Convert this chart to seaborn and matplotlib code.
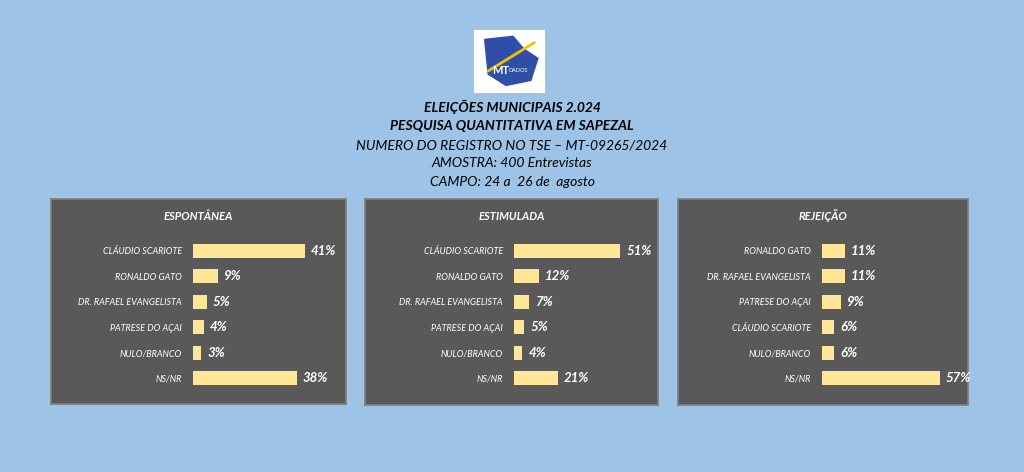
import matplotlib
matplotlib.use("Agg")
import matplotlib.pyplot as plt
import seaborn as sns
import pandas as pd
from matplotlib.patches import Rectangle, Polygon

sns.set_theme(style="white")
plt.rcParams['font.family'] = ['Lato', 'DejaVu Sans']

esp_names = ["CLÁUDIO SCARIOTE", "RONALDO GATO", "DR. RAFAEL EVANGELISTA", "PATRESE DO AÇAI", "NULO/BRANCO", "NS/NR"]
esp_vals = [41, 9, 5, 4, 3, 38]
est_names = ["CLÁUDIO SCARIOTE", "RONALDO GATO", "DR. RAFAEL EVANGELISTA", "PATRESE DO AÇAI", "NULO/BRANCO", "NS/NR"]
est_vals = [51, 12, 7, 5, 4, 21]
rej_names = ["RONALDO GATO", "DR. RAFAEL EVANGELISTA", "PATRESE DO AÇAI", "CLÁUDIO SCARIOTE", "NULO/BRANCO", "NS/NR"]
rej_vals = [11, 11, 9, 6, 6, 57]
panel_titles = ["ESPONTÂNEA", "ESTIMULADA", "REJEIÇÃO"]
title_lines = ["ELEIÇÕES MUNICIPAIS 2.024", "PESQUISA QUANTITATIVA EM SAPEZAL",
               "NUMERO DO REGISTRO NO TSE – MT-09265/2024", "AMOSTRA: 400 Entrevistas",
               "CAMPO: 24 a  26 de  agosto"]

W, H = 1024, 472
BG = "#9DC3E6"; PANEL = "#595959"; BAR = "#FFE699"
fig = plt.figure(figsize=(W/100, H/100), dpi=100, facecolor=BG)

def px(x0, y0, x1, y1):
    return [x0/W, 1-y1/H, (x1-x0)/W, (y1-y0)/H]

lg = fig.add_axes(px(474, 30, 545, 93))
lg.set_xlim(0, 1); lg.set_ylim(0, 1); lg.axis("off")
lg.add_patch(Rectangle((0, 0), 1, 1, color="white"))
lg.add_patch(Polygon([(0.15, 0.85), (0.55, 0.9), (0.7, 0.7), (0.9, 0.55), (0.8, 0.2), (0.45, 0.12), (0.2, 0.3)], color="#2F4EA8"))
lg.plot([0.2, 0.85], [0.35, 0.8], color="#F2C200", lw=2)
lg.text(0.38, 0.35, "MT", color="white", fontsize=8, fontweight="bold", ha="center", va="center")
lg.text(0.62, 0.35, "DADOS", color="white", fontsize=4, ha="center", va="center")

ys = [107, 126, 145, 163, 182]
for i, (t, y) in enumerate(zip(title_lines, ys)):
    fig.text(512/W, 1-y/H, t, ha="center", va="center", fontsize=10, style="italic",
             fontweight="bold" if i < 2 else "normal", color="black")

panels = [
    ((51, 199, 346, 404), 193, 2.73, esp_names, esp_vals),
    ((365, 199, 658, 405), 514, 2.08, est_names, est_vals),
    ((678, 199, 968, 405), 822, 2.07, rej_names, rej_vals),
]
for (box, bx, scale, names, vals), ptitle in zip(panels, panel_titles):
    x0, y0, x1, y1 = box
    bg = fig.add_axes(px(x0, y0, x1, y1))
    bg.set_facecolor(PANEL); bg.set_xticks([]); bg.set_yticks([])
    for s in bg.spines.values():
        s.set_color("#7F7F7F")
    bg.text(0.5, 1-(216-y0)/(y1-y0), ptitle, transform=bg.transAxes, ha="center", va="center",
            color="white", fontsize=8, fontweight="bold", style="italic")
    ax = fig.add_axes(px(bx, 238, x1-6, 391))
    ax.patch.set_alpha(0)
    df = pd.DataFrame({"name": names, "val": vals})
    sns.barplot(data=df, x="val", y="name", orient="h", color=BAR, saturation=1, width=0.55,
                edgecolor="none", linewidth=0, ax=ax)
    ax.set_xlim(0, (x1-6-bx)/scale)
    ax.set_xlabel(""); ax.set_ylabel("")
    ax.set_xticks([])
    ax.tick_params(axis="y", colors="white", labelsize=6.5, length=0, pad=8)
    for lab in ax.get_yticklabels():
        lab.set_style("italic")
    for s in ax.spines.values():
        s.set_visible(False)
    for i, v in enumerate(vals):
        ax.text(v + 6/scale, i, f"{v}%", color="white", fontsize=9.5, fontweight="bold",
                style="italic", va="center", ha="left")

fig.savefig("out.png", dpi=100, facecolor=BG)
